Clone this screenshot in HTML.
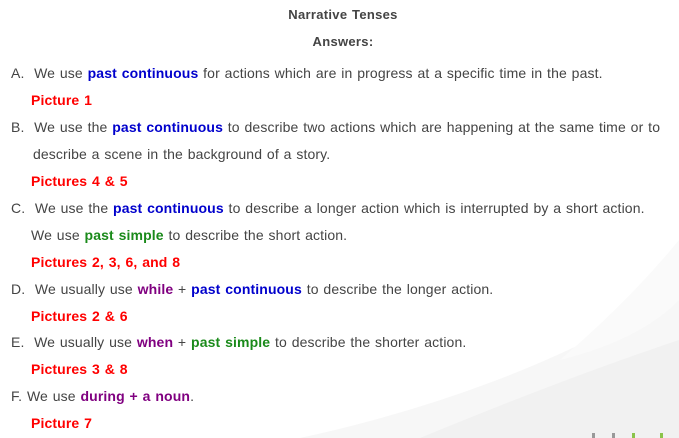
<!DOCTYPE html>
<html><head><style>
body{margin:0;width:679px;height:438px;background:#fff;position:relative;overflow:hidden;font-family:"Liberation Sans",sans-serif;font-size:14px;letter-spacing:0.12px;word-spacing:0.8px;color:#444;}
.l{position:absolute;white-space:nowrap;line-height:16px;}
.b{color:#0000cc;font-weight:bold}
.g{color:#1a8a1a;font-weight:bold}
.p{color:#800080;font-weight:bold}
.r{color:#ff0000;font-weight:bold}
.h{font-weight:bold;color:#444;font-size:13px;letter-spacing:0.3px}
.c{left:0;width:686px;text-align:center}
</style></head><body>
<svg style="position:absolute;left:0;top:0" width="679" height="438">
<path d="M300 438 Q520 390 679 290 L679 438Z" fill="#f7f7f7"/>
<path d="M420 438 Q560 380 679 340 L679 438Z" fill="#f1f1f1"/>
<path d="M560 360 Q630 300 679 240 L679 300 Q640 340 560 360Z" fill="#fafafa"/>
<rect x="592" y="433" width="3" height="5" fill="#999"/>
<rect x="612" y="433" width="3" height="5" fill="#999"/>
<rect x="632" y="433" width="3" height="5" fill="#8bc34a"/>
<rect x="660" y="433" width="3" height="5" fill="#8bc34a"/>
</svg>
<div class="l h c" style="top:7px">Narrative Tenses</div>
<div class="l h c" style="top:34px">Answers:</div>
<div class="l" style="left:11px;top:65px">A.&nbsp;&nbsp;We use <span class="b">past continuous</span> for actions which are in progress at a specific time in the past.</div>
<div class="l r" style="left:31px;top:92px">Picture 1</div>
<div class="l" style="left:11px;top:119px">B.&nbsp;&nbsp;We use the <span class="b">past continuous</span> to describe two actions which are happening at the same time or to</div>
<div class="l" style="left:33px;top:146px">describe a scene in the background of a story.</div>
<div class="l r" style="left:31px;top:173px">Pictures 4 &amp; 5</div>
<div class="l" style="left:11px;top:200px">C.&nbsp;&nbsp;We use the <span class="b">past continuous</span> to describe a longer action which is interrupted by a short action.</div>
<div class="l" style="left:31px;top:227px">We use <span class="g">past simple</span> to describe the short action.</div>
<div class="l r" style="left:31px;top:254px">Pictures 2, 3, 6, and 8</div>
<div class="l" style="left:11px;top:281px">D.&nbsp;&nbsp;We usually use <span class="p">while</span> + <span class="b">past continuous</span> to describe the longer action.</div>
<div class="l r" style="left:31px;top:308px">Pictures 2 &amp; 6</div>
<div class="l" style="left:11px;top:334px">E.&nbsp;&nbsp;We usually use <span class="p">when</span> + <span class="g">past simple</span> to describe the shorter action.</div>
<div class="l r" style="left:31px;top:361px">Pictures 3 &amp; 8</div>
<div class="l" style="left:11px;top:388px">F.&nbsp;We use <span class="p">during + a noun</span>.</div>
<div class="l r" style="left:31px;top:415px">Picture 7</div>
</body></html>
